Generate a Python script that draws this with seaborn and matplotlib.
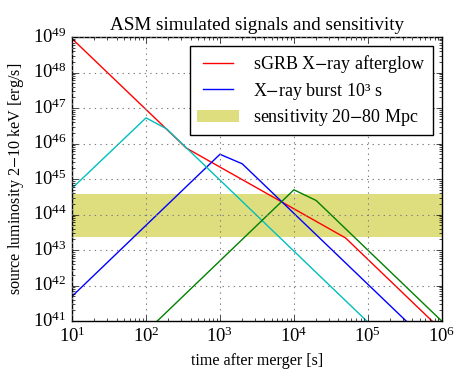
import numpy as np
import pandas as pd
import matplotlib
matplotlib.use('Agg')
import matplotlib.pyplot as plt
import seaborn as sns

plt.style.use('classic')
plt.rcParams['font.family'] = 'serif'
plt.rcParams['font.serif'] = ['Liberation Serif', 'DejaVu Serif']
plt.rcParams['mathtext.fontset'] = 'stix'
plt.rcParams['figure.facecolor'] = 'white'
plt.rcParams['savefig.facecolor'] = 'white'

# --- dados ---
t_sgrb = [10, 350, 5e4, 1e6]
l_sgrb = [9e48, 7.5e45, 2.2e43, 5.5e40]

t_burst = [10, 1e3, 2e3, 1e6]
l_burst = [5e41, 5e45, 2.7e45, 1.1e40]

t_cyan = [10, 100, 190, 1e6]
l_cyan = [5.5e44, 5.3e46, 2.6e46, 9.4e38]

t_green = [100, 1e4, 2e4, 1e6]
l_green = [5e40, 5e44, 2.5e44, 1e41]

sens_lo = 2.3e43
sens_hi = 3.7e44
t_band = [10, 1e6]

fig, ax = plt.subplots(figsize=(4.71, 3.86), dpi=100)
fig.subplots_adjust(left=0.153, right=0.938, bottom=0.168, top=0.904)

ax.set_xscale('log')
ax.set_yscale('log')

sns.lineplot(x=t_sgrb, y=l_sgrb, color='r', lw=1, ax=ax, label='sGRB X$-$ray afterglow')
sns.lineplot(x=t_burst, y=l_burst, color='b', lw=1, ax=ax, label='X$-$ray burst 10³ s')
sns.lineplot(x=t_cyan, y=l_cyan, color='c', lw=1, ax=ax)
sns.lineplot(x=t_green, y=l_green, color='g', lw=1, ax=ax)
ax.fill_between(t_band, sens_lo, sens_hi, color='y', alpha=0.5, lw=0,
                label='sensitivity 20$-$80 Mpc')

ax.set_xlim(10, 1e6)
ax.set_ylim(1e41, 1e49)
ax.grid(True, which='major', color='0.5', linestyle=':', lw=0.8)
ax.set_xlabel('time after merger [s]', fontsize=11.6)
ax.set_ylabel('source luminosity 2$-$10 keV [erg/s]', fontsize=11.6)
ax.set_title('ASM simulated signals and sensitivity', fontsize=13.8)
ax.tick_params(labelsize=13.5)

leg = ax.legend(loc='upper right', fontsize=13, fancybox=False, frameon=True,
                handlelength=2.3, borderaxespad=0.5, labelspacing=0.3)
leg.get_frame().set_edgecolor('k')

plt.savefig('out.png', dpi=100)
